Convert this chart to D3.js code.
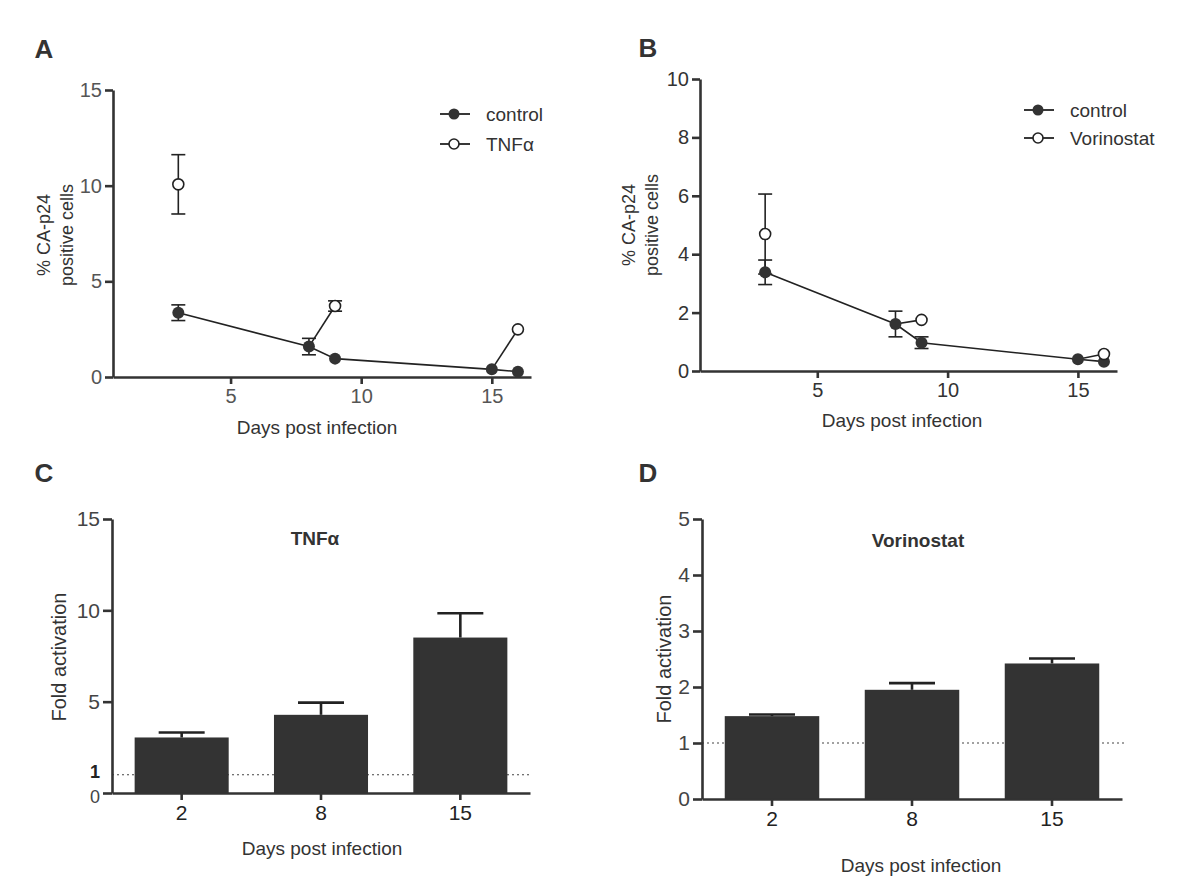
<!DOCTYPE html>
<html>
<head>
<meta charset="utf-8">
<script src="https://cdn.jsdelivr.net/npm/d3@7"></script>
<style>
body{margin:0;background:#fff;}
text{font-family:"Liberation Sans",Arial,sans-serif;}
</style>
</head>
<body>
<svg id="svg" width="1200" height="893"></svg>
<script>
// dias post infeccion (paneles A y B)
const controlDays = [3, 8, 9, 15, 16];
const treatDays = [3, 9, 16];

const controlA = [3.36, 1.59, 0.96, 0.40, 0.28];
const controlAErr = [0.41, 0.43, 0, 0, 0];
const tnfA = [10.07, 3.71, 2.49];
const tnfAErr = [1.55, 0.27, 0];

const controlB = [3.38, 1.61, 0.97, 0.40, 0.32];
const controlBErr = [0.42, 0.44, 0.2, 0, 0];
const vorB = [4.69, 1.75, 0.58];
const vorBErr = [1.37, 0, 0];

// fold activation (paneles C y D)
const barDays = ["2", "8", "15"];
const tnfFold = [3.04, 4.28, 8.51];
const tnfFoldErr = [0.27, 0.67, 1.33];
const vorFold = [1.48, 1.95, 2.42];
const vorFoldErr = [0.03, 0.12, 0.09];

const svg = d3.select("#svg");
svg.append("rect").attr("width", 1200).attr("height", 893).attr("fill", "#fff");

const ink = "#333";

function estiloEje(g, size, color){
	g.select(".domain").attr("stroke", ink).attr("stroke-width", 2.6);
	g.selectAll(".tick line").attr("stroke", ink).attr("stroke-width", 2.6);
	g.selectAll(".tick text").attr("font-size", size).attr("fill", color).attr("font-family", null);
}

function letra(txt, x, y){
	svg.append("text").attr("x", x).attr("y", y).attr("font-size", 26).attr("font-weight", "bold")
	.attr("fill", ink).attr("text-anchor", "middle").text(txt);
}

function dibujarLineas(p){
	const x = d3.scaleLinear().domain([0.5, 16.5]).range([p.left, p.right]);
	const y = d3.scaleLinear().domain([0, p.ymax]).range([p.bottom, p.top]);

	svg.append("g")
	.attr("transform", `translate(0,${p.bottom})`)
	.call(d3.axisBottom(x).tickValues([5, 10, 15]).tickFormat(d3.format("d")).tickSize(7).tickPadding(5).tickSizeOuter(0))
	.call(g => estiloEje(g, 20, p.tickColor));

	svg.append("g")
	.attr("transform", `translate(${p.left},0)`)
	.call(d3.axisLeft(y).tickValues(p.yticks).tickFormat(d3.format("d")).tickSize(8).tickPadding(3).tickSizeOuter(0))
	.call(g => estiloEje(g, 20, p.tickColor));

	const ctrl = controlDays.map((d, i) => ({day: d, v: p.ctrl[i], e: p.ctrlErr[i]}));
	const trt = treatDays.map((d, i) => ({day: d, v: p.trt[i], e: p.trtErr[i]}));

	const line = d3.line().x(d => x(d.day)).y(d => y(d.v));

	svg.append("path").datum(ctrl)
	.attr("fill", "none").attr("stroke", "#222").attr("stroke-width", 1.6)
	.attr("d", line);

	// el tratado sale del control del dia anterior
	trt.forEach(t => {
		const prev = ctrl.find(c => c.day === t.day - 1);
		if(!prev) return;
		svg.append("path").datum([prev, t])
		.attr("fill", "none").attr("stroke", "#222").attr("stroke-width", 1.6)
		.attr("d", line);
	});

	const errores = ctrl.concat(trt).filter(d => d.e > 0);
	errores.forEach(d => {
		const g = svg.append("g").attr("stroke", "#222").attr("stroke-width", 1.6);
		g.append("line").attr("x1", x(d.day)).attr("x2", x(d.day))
		.attr("y1", y(d.v - d.e)).attr("y2", y(d.v + d.e));
		[d.v - d.e, d.v + d.e].forEach(v => {
			g.append("line").attr("x1", x(d.day) - 7).attr("x2", x(d.day) + 7)
			.attr("y1", y(v)).attr("y2", y(v));
		});
	});

	svg.selectAll(null).data(ctrl).enter().append("circle")
	.attr("cx", d => x(d.day)).attr("cy", d => y(d.v)).attr("r", 6)
	.attr("fill", ink);

	svg.selectAll(null).data(trt).enter().append("circle")
	.attr("cx", d => x(d.day)).attr("cy", d => y(d.v)).attr("r", 5.5)
	.attr("fill", "#fff").attr("stroke", "#222").attr("stroke-width", 1.6);

	// leyenda
	const leg = [{name: "control", filled: true}, {name: p.trtName, filled: false}];
	leg.forEach((l, i) => {
		const ly = p.legY + i * p.legGap;
		svg.append("line").attr("x1", p.legX).attr("x2", p.legX + 30).attr("y1", ly).attr("y2", ly)
		.attr("stroke", "#222").attr("stroke-width", 1.8);
		svg.append("circle").attr("cx", p.legX + 14).attr("cy", ly).attr("r", l.filled ? 5.5 : 5)
		.attr("fill", l.filled ? ink : "#fff").attr("stroke", "#222").attr("stroke-width", l.filled ? 0 : 1.6);
		svg.append("text").attr("x", p.legX + 46).attr("y", ly).attr("dy", "0.35em")
		.attr("font-size", 19).attr("fill", ink).text(l.name);
	});

	svg.append("text").attr("x", p.xTitleX).attr("y", p.xTitleY).attr("dy", "0.35em")
	.attr("text-anchor", "middle").attr("font-size", 19).attr("fill", ink).text("Days post infection");

	["% CA-p24", "positive cells"].forEach((t, i) => {
		svg.append("text")
		.attr("transform", `translate(${p.yTitleX + i * 23},${p.yTitleY}) rotate(-90)`)
		.attr("dy", "0.35em").attr("text-anchor", "middle").attr("font-size", 18).attr("fill", ink).text(t);
	});
}

function dibujarBarras(p){
	const x = d3.scaleBand().domain(barDays).range([p.left, p.right]).paddingInner(0.325).paddingOuter(0.1625);
	const y = d3.scaleLinear().domain([0, p.ymax]).range([p.bottom, p.top]);

	// linea punteada en 1
	svg.append("line").attr("x1", p.left).attr("x2", p.right + 2).attr("y1", y(1)).attr("y2", y(1))
	.attr("stroke", "#444").attr("stroke-width", 1.2).attr("stroke-dasharray", "2,3");

	svg.selectAll(null).data(barDays).enter().append("rect")
	.attr("x", d => x(d)).attr("width", x.bandwidth())
	.attr("y", (d, i) => y(p.values[i])).attr("height", (d, i) => y(0) - y(p.values[i]))
	.attr("fill", "#333");

	barDays.forEach((d, i) => {
		const cx = x(d) + x.bandwidth() / 2;
		const top = y(p.values[i] + p.errs[i]);
		svg.append("line").attr("x1", cx).attr("x2", cx).attr("y1", y(p.values[i])).attr("y2", top)
		.attr("stroke", "#222").attr("stroke-width", 2.6);
		svg.append("line").attr("x1", cx - 23).attr("x2", cx + 23).attr("y1", top).attr("y2", top)
		.attr("stroke", "#222").attr("stroke-width", 2.6);
	});

	svg.append("g")
	.attr("transform", `translate(0,${p.bottom})`)
	.call(d3.axisBottom(x).tickSize(7).tickPadding(5).tickSizeOuter(0))
	.call(g => estiloEje(g, 21, "#222"));

	const yAxis = svg.append("g")
	.attr("transform", `translate(${p.left},0)`)
	.call(d3.axisLeft(y).tickValues(p.yticks).tickFormat(d3.format("d")).tickSize(9).tickPadding(3).tickSizeOuter(0))
	.call(g => estiloEje(g, 21, "#444"));

	if(p.boldOne){
		// el 0 queda pegado al 1 en negrita, se baja un poco
		yAxis.selectAll(".tick text").filter(d => d === 0).attr("font-size", 18).attr("dy", "0.5em");
		svg.append("text").attr("x", p.left - 12).attr("y", y(1) - 3).attr("dy", "0.35em")
		.attr("text-anchor", "end").attr("font-size", 18).attr("font-weight", "bold").attr("fill", "#222").text("1");
	}

	svg.append("text").attr("x", p.titleX).attr("y", p.titleY).attr("text-anchor", "middle")
	.attr("font-size", 19).attr("font-weight", "bold").attr("fill", ink).text(p.title);

	svg.append("text").attr("x", p.xTitleX).attr("y", p.xTitleY).attr("dy", "0.35em")
	.attr("text-anchor", "middle").attr("font-size", 19).attr("fill", ink).text("Days post infection");

	svg.append("text")
	.attr("transform", `translate(${p.yTitleX},${p.yTitleY}) rotate(-90)`)
	.attr("dy", "0.35em").attr("text-anchor", "middle").attr("font-size", 20).attr("fill", ink).text("Fold activation");
}

dibujarLineas({
	left: 113, right: 531, top: 90, bottom: 377, ymax: 15, yticks: [0, 5, 10, 15],
	ctrl: controlA, ctrlErr: controlAErr, trt: tnfA, trtErr: tnfAErr, trtName: "TNF\u03b1",
	tickColor: "#555", legX: 440, legY: 114, legGap: 30,
	xTitleX: 317, xTitleY: 427, yTitleX: 44, yTitleY: 235
});

dibujarLineas({
	left: 700, right: 1117, top: 79, bottom: 371, ymax: 10, yticks: [0, 2, 4, 6, 8, 10],
	ctrl: controlB, ctrlErr: controlBErr, trt: vorB, trtErr: vorBErr, trtName: "Vorinostat",
	tickColor: "#333", legX: 1024, legY: 110, legGap: 28,
	xTitleX: 902, xTitleY: 420, yTitleX: 629, yTitleY: 225
});

dibujarBarras({
	left: 112, right: 530, top: 519, bottom: 793, ymax: 15, yticks: [0, 5, 10, 15],
	values: tnfFold, errs: tnfFoldErr, boldOne: true,
	title: "TNF\u03b1", titleX: 315, titleY: 545,
	xTitleX: 322, xTitleY: 848, yTitleX: 59, yTitleY: 657
});

dibujarBarras({
	left: 702, right: 1122, top: 519, bottom: 799, ymax: 5, yticks: [0, 1, 2, 3, 4, 5],
	values: vorFold, errs: vorFoldErr, boldOne: false,
	title: "Vorinostat", titleX: 918, titleY: 547,
	xTitleX: 921, xTitleY: 865, yTitleX: 664, yTitleY: 659
});

letra("A", 44, 58);
letra("B", 648, 57);
letra("C", 44, 482);
letra("D", 648, 482);
</script>
</body>
</html>
